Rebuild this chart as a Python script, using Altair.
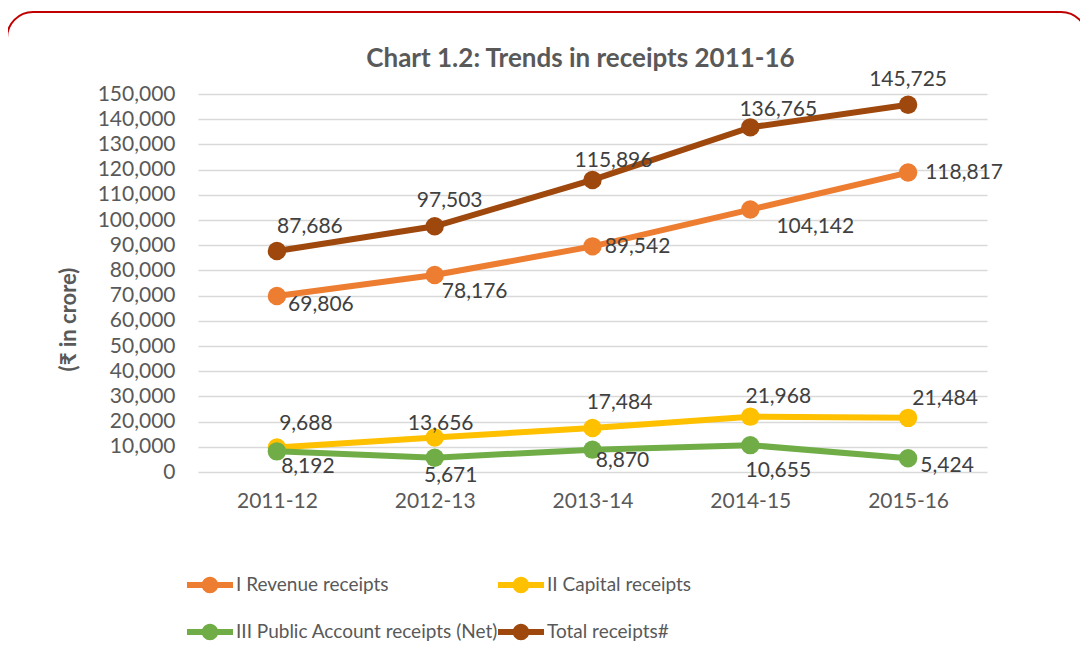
import altair as alt
import pandas as pd

years = ["2011-12", "2012-13", "2013-14", "2014-15", "2015-16"]
series_names = [
    "I Revenue receipts",
    "II Capital receipts",
    "III Public Account receipts (Net)",
    "Total receipts#",
]
revenue = [69806, 78176, 89542, 104142, 118817]
capital = [9688, 13656, 17484, 21968, 21484]
public_acc = [8192, 5671, 8870, 10655, 5424]
total = [87686, 97503, 115896, 136765, 145725]

colors = ["#ED7D31", "#FFC000", "#70AD47", "#9E480E"]

# data-label pixel offsets (styling only)
label_dx = [
    [44, 40, 45, 65, 56],
    [29, 6, 27, 28, 37],
    [31, 16, 30, 28, 39],
    [33, 15, 21, 28, 0],
]
label_dy = [
    [9, 17, 1, 17, 0],
    [-24, -14, -25, -20, -19],
    [16, 18, 11, 26, 8],
    [-24, -25, -19, -17, -25],
]

FONT = "Lato"
TXT = "#595959"

rows = []
for name, vals in zip(series_names, [revenue, capital, public_acc, total]):
    for yr, v in zip(years, vals):
        rows.append({"year": yr, "series": name, "value": v})
df = pd.DataFrame(rows)

SYMBOL = ("M-1,-0.13H1V0.13H-1Z "
          "M0.36,0A0.36,0.36,0,1,1,-0.36,0A0.36,0.36,0,1,1,0.36,0Z")

x = alt.X("year:N", sort=years,
          scale=alt.Scale(type="point", padding=0.5),
          axis=alt.Axis(title=None, labelAngle=0, ticks=False, domain=False,
                        grid=False, labelPadding=18, labelFont=FONT,
                        labelFontSize=21, labelColor=TXT))
y = alt.Y("value:Q",
          scale=alt.Scale(domain=[0, 150000], nice=False),
          axis=alt.Axis(values=list(range(0, 150001, 10000)),
                        labelExpr="format(datum.value, ',')",
                        title="(₹ in crore)", titleFont=FONT, titleFontSize=22,
                        titleFontWeight="bold", titleColor=TXT,
                        titleX=-130, titleY=225, titleAngle=-90,
                        titleAlign="center", titleBaseline="middle",
                        ticks=False, domain=False, labelPadding=23,
                        labelFont=FONT, labelFontSize=21, labelColor=TXT,
                        gridColor="#D9D9D9", gridWidth=1.5))

base = alt.Chart(df)

# stroke scale uses the data-derived (alphabetical = same) order so that its
# legend-less guide does not merge with the colour legend
lines = base.mark_line(strokeWidth=6).encode(
    x=x, y=y,
    stroke=alt.Stroke("series:N", scale=alt.Scale(range=colors), legend=None))

points = base.mark_point(filled=True, size=340, opacity=1).encode(
    x=x, y=y,
    color=alt.Color("series:N",
                    scale=alt.Scale(domain=series_names, range=colors),
                    legend=alt.Legend(title=None, orient="none",
                                      direction="horizontal",
                                      legendX=-11, legendY=468, columns=2,
                                      columnPadding=0, rowPadding=14,
                                      symbolType=SYMBOL, symbolSize=2116,
                                      symbolStrokeWidth=0, labelFont=FONT,
                                      labelFontSize=19, labelColor=TXT,
                                      labelOffset=3, labelLimit=0)))

label_layers = []
for si, name in enumerate(series_names):
    for i, yr in enumerate(years):
        label_layers.append(
            base.transform_filter(
                (alt.datum.series == name) & (alt.datum.year == yr)
            ).mark_text(font=FONT, fontSize=21, color="#404040",
                        align="center", baseline="middle",
                        dx=label_dx[si][i], dy=label_dy[si][i]).encode(
                x=x, y=y, text=alt.Text("value:Q", format=","))
        )

border = alt.Chart(alt.Data(values=[{"k": 1}])).mark_rect(
    filled=False, stroke="#C00000", strokeWidth=2, cornerRadius=26).encode(
    x=alt.value(-191), x2=alt.value(889), y=alt.value(-82), y2=alt.value(640))

chart = alt.layer(border, lines, points, *label_layers).properties(
    width=789, height=378,
    background="white",
    title=alt.TitleParams("Chart 1.2: Trends in receipts 2011-16", font=FONT,
                          fontSize=26, fontWeight="bold", color=TXT,
                          anchor="middle", offset=0, dx=-12, dy=61),
    padding={"left": 190, "top": 86, "right": 93, "bottom": 175},
    autosize="none",
).configure_view(stroke=None)

chart.save("out.html", embed_options={"renderer": "svg", "actions": False})
